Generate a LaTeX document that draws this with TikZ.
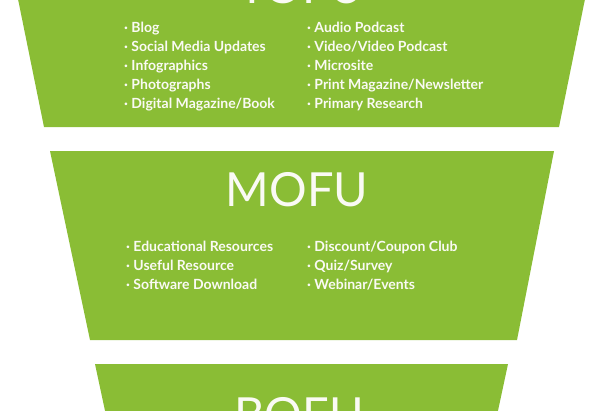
\documentclass[tikz,border=0pt]{standalone}
\usepackage{fontspec}
\setmainfont{Lato}
\usepackage{tikz}
\usetikzlibrary{positioning}
\definecolor{funnelgreen}{RGB}{138,189,53}
\definecolor{funneltext}{RGB}{250,250,244}

\begin{document}
\begin{tikzpicture}[
        x=1pt, y=-1pt,
        stage/.style = {fill=funnelgreen},
        stagename/.style = {text=funneltext, font=\fontsize{47}{47}\selectfont, inner sep=0pt, anchor=base},
        itemlist/.style = {text=funneltext, font=\fontsize{14}{19}\selectfont\bfseries, align=left, inner sep=0pt, anchor=base west},
    ]
        \useasboundingbox (0,0) rectangle (600,410);
        \clip (0,0) rectangle (600,410);

        % funnel stages
        \fill[stage] (6,-60) -- (597,-60) -- (559,127) -- (44,127) -- cycle;
        \fill[stage] (50,151) -- (554,151) -- (517,340) -- (90,340) -- cycle;
        \fill[stage] (95,364) -- (508,364) -- (496,420) -- (107,420) -- cycle;

        \node[stagename] (tofu) at (301,3) {TOFU};
        \node[stagename] (mofu) at (297,206) {MOFU};
        \node[stagename] (bofu) at (299,431) {BOFU};

        % top of funnel (anchored at the last line)
        \node[itemlist] (tofuleft) at (124,108) {· Blog\\· Social Media Updates\\· Infographics\\· Photographs\\· Digital Magazine/Book};
        \node[itemlist] (tofuright) at (307,108) {· Audio Podcast\\· Video/Video Podcast\\· Microsite\\· Print Magazine/Newsletter\\· Primary Research};

        % middle of funnel
        \node[itemlist] (mofuleft) at (126,289) {· Educational Resources\\· Useful Resource\\· Software Download};
        \node[itemlist] (mofuright) at (307,289) {· Discount/Coupon Club\\· Quiz/Survey\\· Webinar/Events};
    \end{tikzpicture}
\end{document}
